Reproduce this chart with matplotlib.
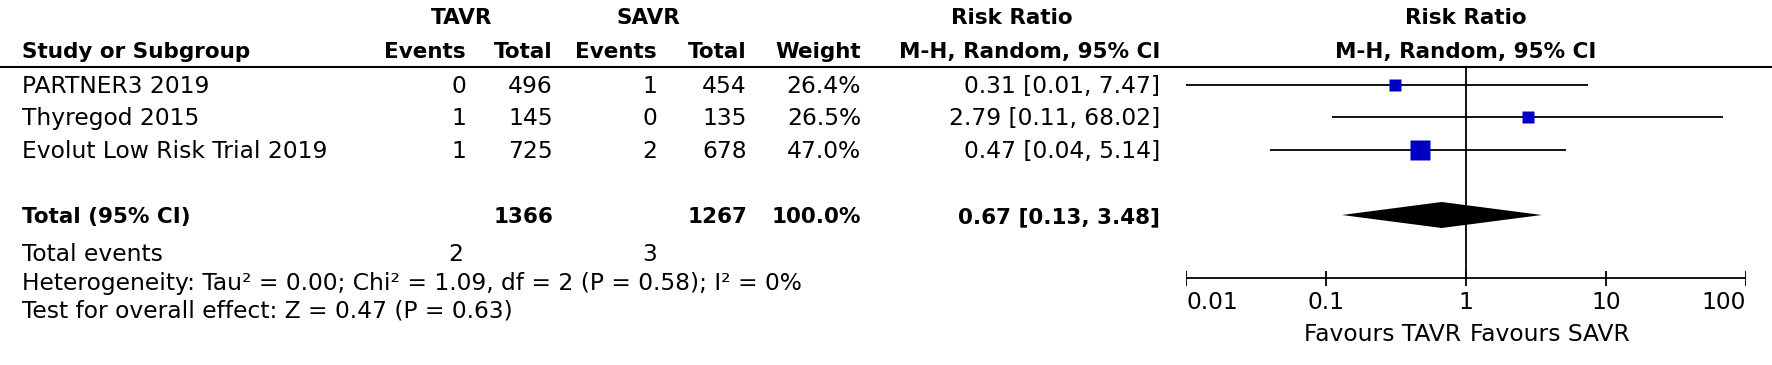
import numpy as np
import matplotlib
matplotlib.use("Agg")
import matplotlib.pyplot as plt

# study data
studies = ["PARTNER3 2019", "Thyregod 2015", "Evolut Low Risk Trial 2019"]
tavr_events = [0, 1, 1]
tavr_total = [496, 145, 725]
savr_events = [1, 0, 2]
savr_total = [454, 135, 678]
weight = [26.4, 26.5, 47.0]
rr = [0.31, 2.79, 0.47]
rr_lo = [0.01, 0.11, 0.04]
rr_hi = [7.47, 68.02, 5.14]

# pooled
tot_tavr_events = 2
tot_savr_events = 3
tot_tavr = 1366
tot_savr = 1267
tot_weight = 100.0
tot_rr = 0.67
tot_lo = 0.13
tot_hi = 3.48

ticks = [0.01, 0.1, 1, 10, 100]
tick_labels = ["0.01", "0.1", "1", "10", "100"]

W, H = 1772, 365
fig = plt.figure(figsize=(W / 100, H / 100), dpi=100)
ax = fig.add_axes([0, 0, 1, 1])
ax.set_xlim(0, W)
ax.set_ylim(H, 0)
ax.axis("off")

fs = 16.8
fsb = 15.5
bold = dict(fontsize=fsb, fontweight="bold", va="baseline")
reg = dict(fontsize=fs, va="baseline")

# column right edges (px)
c_ev1, c_tot1, c_ev2, c_tot2, c_w, c_rr = 466, 553, 657, 747, 861, 1160
x0 = 22

# header
ax.text(462, 24, "TAVR", ha="center", **bold)
ax.text(648, 24, "SAVR", ha="center", **bold)
ax.text(1012, 24, "Risk Ratio", ha="center", **bold)
ax.text(1466, 24, "Risk Ratio", ha="center", **bold)
hb = 58
ax.text(x0, hb, "Study or Subgroup", ha="left", **bold)
ax.text(c_ev1, hb, "Events", ha="right", **bold)
ax.text(c_tot1, hb, "Total", ha="right", **bold)
ax.text(c_ev2, hb, "Events", ha="right", **bold)
ax.text(c_tot2, hb, "Total", ha="right", **bold)
ax.text(c_w, hb, "Weight", ha="right", **bold)
ax.text(c_rr, hb, "M-H, Random, 95% CI", ha="right", **bold)
ax.text(1466, hb, "M-H, Random, 95% CI", ha="center", **bold)
ax.plot([0, W], [67, 67], color="black", lw=1.5, solid_capstyle="butt")

# study rows
row_y = [85, 117, 150]
for i, y in enumerate(row_y):
    b = y + 8
    ax.text(x0, b, studies[i], ha="left", **reg)
    ax.text(c_ev1, b, str(tavr_events[i]), ha="right", **reg)
    ax.text(c_tot1, b, str(tavr_total[i]), ha="right", **reg)
    ax.text(c_ev2, b, str(savr_events[i]), ha="right", **reg)
    ax.text(c_tot2, b, str(savr_total[i]), ha="right", **reg)
    ax.text(c_w, b, "%.1f%%" % weight[i], ha="right", **reg)
    ax.text(c_rr, b, "%.2f [%.2f, %.2f]" % (rr[i], rr_lo[i], rr_hi[i]), ha="right", **reg)

# total row
ty = 215
ax.text(x0, ty + 8, "Total (95% CI)", ha="left", **bold)
ax.text(c_tot1, ty + 8, str(tot_tavr), ha="right", **bold)
ax.text(c_tot2, ty + 8, str(tot_savr), ha="right", **bold)
ax.text(c_w, ty + 8, "%.1f%%" % tot_weight, ha="right", **bold)
ax.text(c_rr, ty + 8, "%.2f [%.2f, %.2f]" % (tot_rr, tot_lo, tot_hi), ha="right", **bold)

ax.text(x0, 261, "Total events", ha="left", **reg)
ax.text(c_ev1 - 3, 261, str(tot_tavr_events), ha="right", **reg)
ax.text(c_ev2, 261, str(tot_savr_events), ha="right", **reg)
ax.text(x0, 290, "Heterogeneity: Tau\u00b2 = 0.00; Chi\u00b2 = 1.09, df = 2 (P = 0.58); I\u00b2 = 0%",
        ha="left", **reg)
ax.text(x0, 318, "Test for overall effect: Z = 0.47 (P = 0.63)", ha="left", **reg)

# forest plot
fx = fig.add_axes([1186 / W, 0, (1746 - 1186) / W, 1])
fx.set_xscale("log")
fx.set_xlim(0.01, 100)
fx.set_ylim(H, 0)
fx.axis("off")

axis_y = 278
fx.plot([1, 1], [67, axis_y], color="black", lw=1.3, solid_capstyle="butt")
for i, y in enumerate(row_y):
    fx.plot([rr_lo[i], rr_hi[i]], [y, y], color="black", lw=1.3, solid_capstyle="butt")
    side = 12 * (weight[i] / 26.4) ** 0.85 * 0.72
    fx.plot(rr[i], y, marker="s", ms=side, color="#0000c4", mec="none", ls="none")

fx.fill([tot_lo, tot_rr, tot_hi, tot_rr], [ty, ty - 13, ty, ty + 13], color="black", lw=0)

fx.plot([0.01, 100], [axis_y, axis_y], color="black", lw=1.3, solid_capstyle="butt")
fx.vlines(ticks, axis_y - 7, axis_y + 8, color="black", lw=1.3)
for t, lab in zip(ticks, tick_labels):
    ha = "center"
    if t == ticks[0]:
        ha = "left"
    elif t == ticks[-1]:
        ha = "right"
    fx.text(t, 309, lab, ha=ha, **reg)

fx.text(0.92, 341, "Favours TAVR", ha="right", fontsize=fs, va="baseline")
fx.text(1.06, 341, "Favours SAVR", ha="left", fontsize=fs, va="baseline")

fig.savefig("out.png", dpi=100)
